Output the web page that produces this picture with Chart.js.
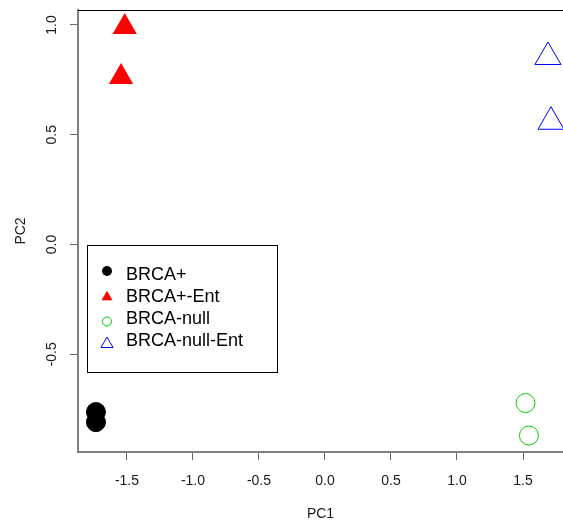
<!DOCTYPE html>
<html>
<head>
<meta charset="utf-8">
<script src="https://cdn.jsdelivr.net/npm/chart.js@4/dist/chart.umd.min.js"></script>
<style>
  html, body { margin: 0; padding: 0; background: #fff; }
</style>
</head>
<body>
<canvas id="chart" width="563" height="525"></canvas>
<script>
// PCA scores
const groupNames = ["BRCA+", "BRCA+-Ent", "BRCA-null", "BRCA-null-Ent"];
const brcaPosPC1 = [-1.735, -1.735];
const brcaPosPC2 = [-0.763, -0.809];
const brcaPosEntPC1 = [-1.517, -1.545];
const brcaPosEntPC2 = [0.991, 0.763];
const brcaNullPC1 = [1.519, 1.545];
const brcaNullPC2 = [-0.722, -0.870];
const brcaNullEntPC1 = [1.689, 1.712];
const brcaNullEntPC2 = [0.854, 0.559];

const xTicks = [-1.5, -1.0, -0.5, 0.0, 0.5, 1.0, 1.5];
const yTicks = [-0.5, 0.0, 0.5, 1.0];

const FONT = "'Liberation Sans', Arial, sans-serif";

function pts(xs, ys) {
    return xs.map((x, i) => ({x: x, y: ys[i]}));
}

//marker look per group (R pch 19, 17, 1, 2)
const styles = [
    {shape: 'circle', fill: '#000000', stroke: '#000000', r: 9.5, lr: 5, ly: 271},
    {shape: 'triangle', fill: '#ff0000', stroke: '#ff0000', r: 14, lr: 6.3, ly: 297},
    {shape: 'circle', fill: 'rgba(0,0,0,0)', stroke: '#00cd00', r: 9.5, lr: 4.5, ly: 321.5},
    {shape: 'triangle', fill: 'rgba(0,0,0,0)', stroke: '#0000ff', r: 15, lr: 7, ly: 344}
];

const seriesData = [
    pts(brcaPosPC1, brcaPosPC2),
    pts(brcaPosEntPC1, brcaPosEntPC2),
    pts(brcaNullPC1, brcaNullPC2),
    pts(brcaNullEntPC1, brcaNullEntPC2)
];

const datasets = groupNames.map((name, i) => ({
    label: name,
    data: seriesData[i],
    pointStyle: styles[i].shape,
    pointRadius: styles[i].r,
    pointHoverRadius: styles[i].r,
    backgroundColor: styles[i].fill,
    borderColor: styles[i].stroke,
    borderWidth: i === 1 ? 0 : 1,
    clip: false
}));

// y tick labels (rotated), top frame line and the boxed legend
const extras = {
    id: 'extras',
    afterDraw(chart) {
        const ctx = chart.ctx;
        const area = chart.chartArea;
        const ys = chart.scales.y;
        ctx.save();

        //top frame
        ctx.strokeStyle = '#000';
        ctx.lineWidth = 1;
        ctx.beginPath();
        ctx.moveTo(area.left, area.top + 0.5);
        ctx.lineTo(area.right, area.top + 0.5);
        ctx.stroke();

        //rotated y labels
        ctx.fillStyle = '#1a1a1a';
        ctx.font = '14px ' + FONT;
        ctx.textAlign = 'center';
        ctx.textBaseline = 'middle';
        yTicks.forEach(v => {
            const py = ys.getPixelForValue(v);
            ctx.save();
            ctx.translate(52, py);
            ctx.rotate(-Math.PI / 2);
            ctx.fillText(v.toFixed(1), 0, 0);
            ctx.restore();
        });

        //legend
        ctx.strokeStyle = '#000';
        ctx.lineWidth = 1;
        ctx.strokeRect(87.5, 245.5, 190, 127);
        ctx.font = '18px ' + FONT;
        ctx.textAlign = 'left';
        groupNames.forEach((name, i) => {
            const s = styles[i];
            const cy = s.ly;
            ctx.beginPath();
            if (s.shape === 'circle') {
                ctx.arc(107, cy, s.lr, 0, Math.PI * 2);
            } else {
                ctx.moveTo(107, cy - s.lr);
                ctx.lineTo(107 + s.lr * 0.866, cy + s.lr / 2);
                ctx.lineTo(107 - s.lr * 0.866, cy + s.lr / 2);
                ctx.closePath();
            }
            if (i < 2) {
                ctx.fillStyle = s.fill;
                ctx.fill();
            } else {
                ctx.strokeStyle = s.stroke;
                ctx.lineWidth = 1;
                ctx.stroke();
            }
            ctx.fillStyle = '#000';
            ctx.fillText(name, 126, 275 + i * 21.9);
        });
        ctx.restore();
    }
};

var chart = new Chart(document.getElementById('chart'), {
    type: 'scatter',
    data: {datasets: datasets},
    options: {
        responsive: false,
        animation: false,
        events: [],
        layout: {autoPadding: false, padding: {top: 10, right: 0, left: 0, bottom: 0}},
        plugins: {legend: {display: false}, tooltip: {enabled: false}},
        scales: {
            x: {
                type: 'linear',
                min: -1.871,
                max: 1.803,
                afterBuildTicks: s => { s.ticks = xTicks.map(v => ({value: v})); },
                afterFit: s => { s.height = 73; s.paddingLeft = 0; s.paddingRight = 0; },
                grid: {drawOnChartArea: false, drawTicks: true, tickLength: 8, tickColor: '#666', lineWidth: 1},
                border: {display: true, color: '#808080', width: 2},
                ticks: {
                    padding: 13,
                    color: '#1a1a1a',
                    font: {family: FONT, size: 14},
                    maxRotation: 0,
                    callback: v => v.toFixed(1)
                },
                title: {display: true, text: 'PC1', color: '#1a1a1a', font: {family: FONT, size: 14}, padding: {top: 0, bottom: 2}}
            },
            y: {
                type: 'linear',
                min: -0.945,
                max: 1.068,
                afterBuildTicks: s => { s.ticks = yTicks.map(v => ({value: v})); },
                afterFit: s => { s.width = 78; s.paddingTop = 0; s.paddingBottom = 0; },
                grid: {drawOnChartArea: false, drawTicks: true, tickLength: 8, tickColor: '#666', lineWidth: 1},
                border: {display: true, color: '#808080', width: 2},
                ticks: {display: false},
                title: {display: true, text: 'PC2', color: '#1a1a1a', font: {family: FONT, size: 14}, padding: {top: 12.5, bottom: 0}}
            }
        }
    },
    plugins: [extras]
});
</script>
</body>
</html>
